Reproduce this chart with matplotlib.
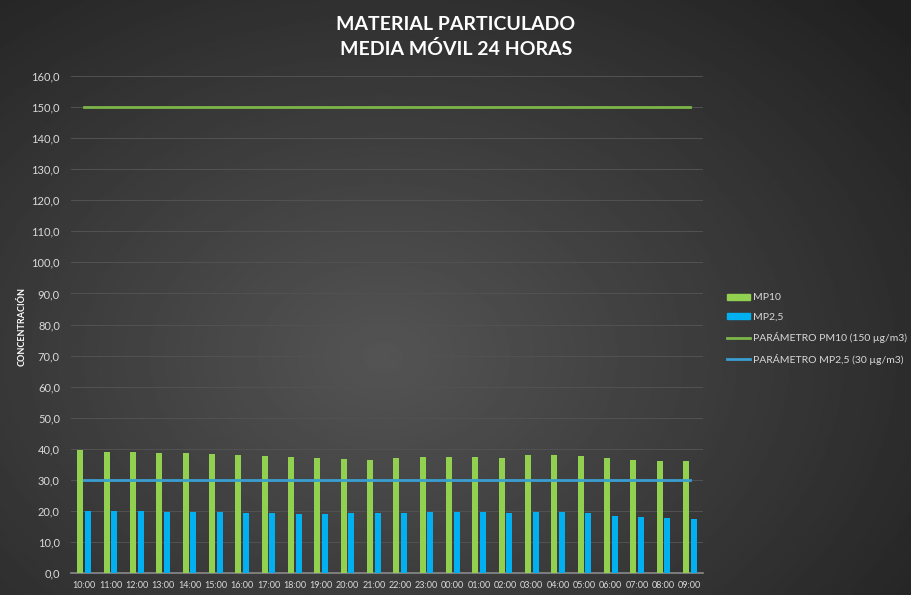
import numpy as np
import matplotlib.pyplot as plt
from matplotlib.ticker import FuncFormatter
from matplotlib.patches import Patch
from matplotlib.lines import Line2D

plt.rcParams['font.family'] = ['Lato', 'DejaVu Sans']

hours = ["10:00", "11:00", "12:00", "13:00", "14:00", "15:00", "16:00", "17:00",
         "18:00", "19:00", "20:00", "21:00", "22:00", "23:00", "00:00", "01:00",
         "02:00", "03:00", "04:00", "05:00", "06:00", "07:00", "08:00", "09:00"]
mp10 = [39.6, 38.9, 38.9, 38.7, 38.5, 38.2, 38.1, 37.7, 37.5, 37.1, 36.8, 36.5,
        37.1, 37.4, 37.2, 37.5, 37.1, 37.9, 38.1, 37.7, 37.0, 36.5, 36.0, 36.0]
mp25 = [20.0, 20.0, 19.8, 19.7, 19.5, 19.5, 19.4, 19.2, 19.1, 18.9, 19.2, 19.4,
        19.4, 19.7, 19.7, 19.7, 19.4, 19.7, 19.7, 19.4, 18.4, 17.9, 17.8, 17.5]
param_pm10 = 150
param_mp25 = 30

green = "#92D050"
blue = "#00B0F0"
green_line = "#7DB548"
blue_line = "#3A9FD0"
txt = "#d9d9d9"

fig = plt.figure(figsize=(9.12, 5.95), dpi=100)

# radial gradient background
bg = fig.add_axes([0, 0, 1, 1], zorder=-10)
yy, xx = np.mgrid[0:1:300j, 0:1:460j]
r = np.sqrt(((xx - 0.42) / 0.75) ** 2 + ((yy - 0.6) / 0.85) ** 2)
shade = np.clip(0.33 - 0.20 * r, 0.13, 0.33)
bg.imshow(shade, cmap="gray", vmin=0, vmax=1, aspect="auto", extent=[0, 1, 0, 1])
bg.axis("off")

ax = fig.add_axes([71 / 912, 22 / 595, 632 / 912, 497 / 595])
ax.patch.set_alpha(0)
x = np.arange(len(hours))
w = 0.22
ax.bar(x - 0.145, mp10, w, color=green, zorder=3)
ax.bar(x + 0.145, mp25, w, color=blue, zorder=3)
ax.plot(x, [param_pm10] * len(x), color=green_line, lw=2, zorder=4)
ax.plot(x, [param_mp25] * len(x), color=blue_line, lw=2, zorder=4)

ax.set_xlim(-0.5, len(hours) - 0.5)
ax.set_ylim(0, 160)
ax.set_yticks(np.arange(0, 161, 10))
ax.yaxis.set_major_formatter(FuncFormatter(lambda v, p: f"{v:.1f}".replace(".", ",")))
ax.set_xticks(x)
ax.set_xticklabels(hours)
ax.tick_params(axis="x", colors=txt, labelsize=6.5, length=0, pad=6)
ax.tick_params(axis="y", colors=txt, labelsize=8, length=0, pad=8)
ax.grid(axis="y", color="#525252", lw=0.7, zorder=0)
for s in ["top", "right", "left"]:
    ax.spines[s].set_visible(False)
ax.spines["bottom"].set_color("#8a8a8a")
ax.spines["bottom"].set_linewidth(1.2)

fig.text(22 / 912, 1 - 326 / 595, "CONCENTRACIÓN", rotation=90, color="white",
         fontsize=6.5, fontweight="bold", ha="center", va="center")
fig.text(456 / 912, 1 - 37 / 595, "MATERIAL PARTICULADO\nMEDIA MÓVIL 24 HORAS",
         color="white", fontsize=14, fontweight="bold", ha="center", va="center",
         linespacing=1.5)

handles = [Patch(color=green), Patch(color=blue),
           Line2D([0], [0], color=green_line, lw=2),
           Line2D([0], [0], color=blue_line, lw=2)]
labels = ["MP10", "MP2,5", "PARÁMETRO PM10 (150 µg/m3)", "PARÁMETRO MP2,5 (30 µg/m3)"]
leg = fig.legend(handles, labels, loc="center left", bbox_to_anchor=(718 / 912, 1 - 329 / 595),
                 frameon=False, fontsize=7.5, labelcolor=txt, handlelength=2.2,
                 handleheight=0.5, labelspacing=1.0, handletextpad=0.3)

fig.savefig("out.png", dpi=100)
